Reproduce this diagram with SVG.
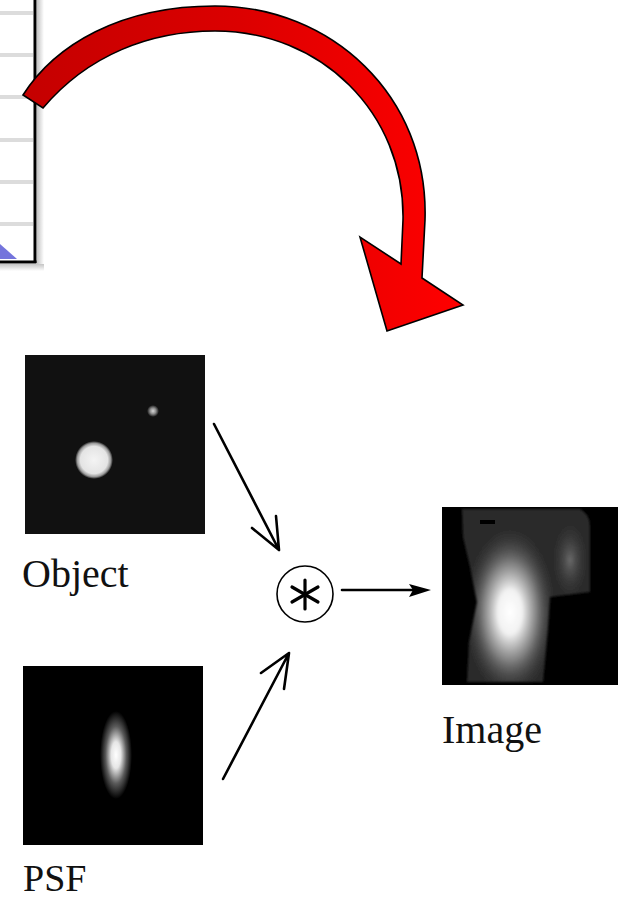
<svg xmlns="http://www.w3.org/2000/svg" width="623" height="899" viewBox="0 0 623 899">
  <style>
    .label { font-family: "Liberation Serif", "Times New Roman", serif; font-size: 40px; fill: #111; }
    .conn { stroke: #000; stroke-width: 2.6; fill: none; stroke-linecap: round; stroke-linejoin: round; }
    .gridline { stroke: #dcdcdc; stroke-width: 4; }
  </style>
  <defs>
    <linearGradient id="redBand" gradientUnits="userSpaceOnUse" x1="20" y1="0" x2="460" y2="0">
      <stop offset="0" stop-color="#c40000"/>
      <stop offset="0.5" stop-color="#dc0000"/>
      <stop offset="1" stop-color="#ff0000"/>
    </linearGradient>
    <linearGradient id="shadowR" x1="0" y1="0" x2="1" y2="0">
      <stop offset="0" stop-color="#c4c4c4"/>
      <stop offset="1" stop-color="#ffffff"/>
    </linearGradient>
    <linearGradient id="shadowB" x1="0" y1="0" x2="0" y2="1">
      <stop offset="0" stop-color="#c4c4c4"/>
      <stop offset="1" stop-color="#ffffff"/>
    </linearGradient>
    <radialGradient id="bigDot">
      <stop offset="0" stop-color="#f4f4f4"/>
      <stop offset="0.72" stop-color="#e4e4e4"/>
      <stop offset="0.88" stop-color="#9a9a9a"/>
      <stop offset="1" stop-color="#111111"/>
    </radialGradient>
    <radialGradient id="smallDot">
      <stop offset="0" stop-color="#d8d8d8"/>
      <stop offset="0.5" stop-color="#8a8a8a"/>
      <stop offset="1" stop-color="#111111"/>
    </radialGradient>
    <radialGradient id="psfSpot">
      <stop offset="0" stop-color="#ffffff"/>
      <stop offset="0.3" stop-color="#e6e6e6"/>
      <stop offset="0.65" stop-color="#5a5a5a"/>
      <stop offset="1" stop-color="#000000"/>
    </radialGradient>
    <radialGradient id="imgCore">
      <stop offset="0" stop-color="#ffffff" stop-opacity="1"/>
      <stop offset="0.25" stop-color="#f2f2f2" stop-opacity="1"/>
      <stop offset="0.55" stop-color="#8c8c8c" stop-opacity="0.9"/>
      <stop offset="1" stop-color="#2c2c2c" stop-opacity="0"/>
    </radialGradient>
    <radialGradient id="imgSide">
      <stop offset="0" stop-color="#6a6a6a" stop-opacity="1"/>
      <stop offset="1" stop-color="#2c2c2c" stop-opacity="0"/>
    </radialGradient>
    <clipPath id="imgRegion">
      <path d="M462,509 L580,509 Q590,514 590,527 L590,592 L550,597 L548,628 L543,682 L467,682 L469,642 L477,602 L470,567 L463,537 Z"/>
    </clipPath>
    <filter id="soft" x="-10%" y="-10%" width="120%" height="120%">
      <feGaussianBlur stdDeviation="1.2"/>
    </filter>
  </defs>

  <!-- table fragment at the top left -->
  <g id="table-fragment">
    <rect x="0" y="0" width="35" height="262" fill="#ffffff"/>
    <line class="gridline" x1="0" y1="13" x2="33" y2="13"/>
    <line class="gridline" x1="0" y1="55" x2="33" y2="55"/>
    <line class="gridline" x1="0" y1="97" x2="33" y2="97"/>
    <line class="gridline" x1="0" y1="140" x2="33" y2="140"/>
    <line class="gridline" x1="0" y1="182" x2="33" y2="182"/>
    <line class="gridline" x1="0" y1="224" x2="33" y2="224"/>
    <polygon points="0,244 17,259 0,259" fill="#7474dc"/>
    <rect x="37" y="0" width="7" height="270" fill="url(#shadowR)"/>
    <rect x="0" y="264" width="44" height="7" fill="url(#shadowB)"/>
    <line x1="35" y1="0" x2="35" y2="263" stroke="#000" stroke-width="3"/>
    <line x1="0" y1="262" x2="36.5" y2="262" stroke="#000" stroke-width="3"/>
  </g>

  <!-- curved red arrow -->
  <g id="curved-arrow">
    <path d="M23,95 C55,45 120,6 215,6 C330,6 429,95 425,220 L422,278 L463,305 L387,331 L360,237 L401,264 L403,220 C405,112 320,31 215,31 C150,31 88,55 43,108 Z" fill="url(#redBand)" stroke="#000" stroke-width="1.6" stroke-linejoin="miter"/>
  </g>

  <!-- object -->
  <g id="object">
    <rect x="25" y="355" width="180" height="179" fill="#111111"/>
    <circle cx="94" cy="460" r="19" fill="url(#bigDot)"/>
    <circle cx="153" cy="411" r="6" fill="url(#smallDot)"/>
    <text class="label" x="22" y="587">Object</text>
  </g>

  <!-- point spread function -->
  <g id="psf">
    <rect x="23" y="666" width="180" height="179" fill="#000000"/>
    <ellipse cx="116" cy="755" rx="16" ry="44" fill="url(#psfSpot)"/>
    <text class="label" x="23" y="891" style="font-size:38px">PSF</text>
  </g>

  <!-- convolution operator -->
  <g id="convolution">
    <circle cx="305" cy="594" r="28" fill="#fff" stroke="#000" stroke-width="1.6"/>
    <g stroke="#000" stroke-width="3.2" stroke-linecap="round">
      <line x1="305" y1="580" x2="305" y2="609"/>
      <line x1="292" y1="587" x2="318" y2="602"/>
      <line x1="292" y1="602" x2="318" y2="587"/>
    </g>
  </g>

  <!-- resulting image -->
  <g id="image">
    <rect x="442" y="507" width="176" height="178" fill="#000000"/>
    <g filter="url(#soft)">
      <g clip-path="url(#imgRegion)">
        <rect x="440" y="505" width="180" height="182" fill="#2a2a2a"/>
        <ellipse cx="570" cy="560" rx="20" ry="42" fill="url(#imgSide)"/>
        <ellipse cx="510" cy="612" rx="48" ry="88" fill="url(#imgCore)"/>
      </g>
    </g>
    <rect x="480" y="520" width="15" height="4" fill="#000"/>
    <text class="label" x="442" y="743">Image</text>
  </g>

  <!-- connectors -->
  <g id="connectors">
    <path class="conn" d="M214,424 L279,550 M252,528 L279,550 L276,516"/>
    <path class="conn" d="M223,779 L289,653 M261,673 L289,653 L284,689"/>
    <line class="conn" x1="342" y1="590" x2="414" y2="590"/>
    <polygon points="431,590 409,584 413,590 409,597" fill="#000"/>
  </g>
</svg>
